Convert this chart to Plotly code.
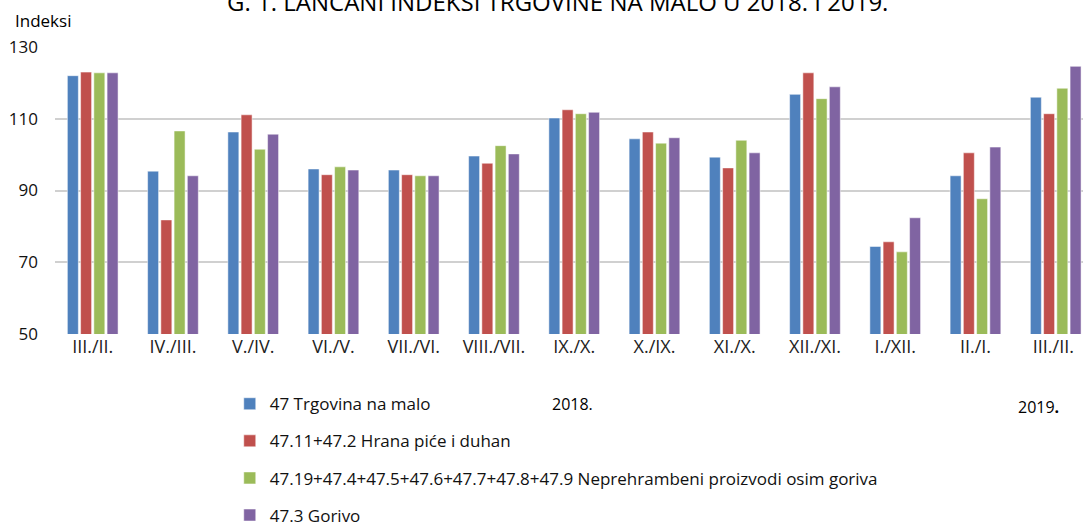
import plotly.graph_objects as go

categories = ["III./II.", "IV./III.", "V./IV.", "VI./V.", "VII./VI.", "VIII./VII.",
              "IX./X.", "X./IX.", "XI./X.", "XII./XI.", "I./XII.", "II./I.", "III./II. "]

trgovina = [122.0, 95.4, 106.3, 96.0, 95.7, 99.6, 110.2, 104.4, 99.3, 116.8, 74.4, 94.1, 116.0]
hrana = [123.0, 81.8, 111.1, 94.4, 94.4, 97.6, 112.5, 106.3, 96.3, 122.8, 75.7, 100.5, 111.4]
neprehrambeni = [122.8, 106.6, 101.5, 96.6, 94.1, 102.5, 111.4, 103.2, 104.0, 115.6, 72.9, 87.7, 118.5]
gorivo = [122.8, 94.1, 105.7, 95.7, 94.1, 100.2, 111.8, 104.7, 100.5, 118.9, 82.4, 102.1, 124.6]

series_names = ["47 Trgovina na malo",
                "47.11+47.2 Hrana piće i duhan",
                "47.19+47.4+47.5+47.6+47.7+47.8+47.9 Neprehrambeni proizvodi osim goriva",
                "47.3 Gorivo"]
series_values = [trgovina, hrana, neprehrambeni, gorivo]
colors = ["#4F81BD", "#C0504D", "#9BBB59", "#8064A2"]

title_text = "G. 1. LANČANI INDEKSI TRGOVINE NA MALO U 2018. I 2019."
y_ticks = [50, 70, 90, 110, 130]

FONT = "Open Sans, Noto Sans, sans-serif"

fig = go.Figure()
for i, (name, vals, col) in enumerate(zip(series_names, series_values, colors)):
    fig.add_trace(go.Bar(
        x=categories, y=vals, name=name, legendgroup=f"g{i}",
        marker=dict(color=col, line=dict(color="rgba(255,255,255,0.5)", width=1)),
    ))

fig.update_layout(
    width=1083, height=524,
    margin=dict(l=55, r=0, t=47, b=190, autoexpand=False),
    paper_bgcolor="white", plot_bgcolor="white",
    barmode="group", bargap=0.34, bargroupgap=0.17,
    font=dict(family=FONT, color="#000000", size=16),
    showlegend=True,
    legend=dict(orientation="v", x=0.170, xanchor="left",
                yref="container", y=0.263, yanchor="top",
                font=dict(size=17, family=FONT, color="#111111"), tracegroupgap=12,
                bgcolor="rgba(0,0,0,0)", itemclick=False),
    xaxis=dict(type="category", range=[-0.47, 12.34], showgrid=False, automargin=False,
               ticks="", showline=False, tickfont=dict(size=18, family=FONT, color="#222222")),
    yaxis=dict(range=[50, 130], tickvals=y_ticks, showgrid=True, automargin=False,
               gridcolor="#D0D0D0", gridwidth=2, zeroline=False, showline=False,
               ticks="", tickfont=dict(size=17, family=FONT, color="#111111"),
               ticklabelstandoff=16),
)

fig.add_annotation(text=title_text, xref="paper", yref="paper", x=0.489, y=1.160,
                   xanchor="center", yanchor="middle", showarrow=False,
                   font=dict(size=24, family=FONT))
fig.add_annotation(text="Indeksi", xref="paper", yref="paper", x=-0.0117, y=1.0906,
                   xanchor="center", yanchor="middle", showarrow=False,
                   font=dict(size=17, family=FONT))
fig.add_annotation(text="2018.", xref="paper", yref="paper", x=0.503, y=-0.244,
                   xanchor="center", yanchor="middle", showarrow=False,
                   font=dict(size=16, family=FONT))
fig.add_annotation(text="2019<b>.</b>", xref="paper", yref="paper", x=0.957, y=-0.254,
                   xanchor="center", yanchor="middle", showarrow=False,
                   font=dict(size=16, family=FONT))

fig.write_html("out.html", config={"displayModeBar": False},
               post_script="document.body.style.margin='0';")
